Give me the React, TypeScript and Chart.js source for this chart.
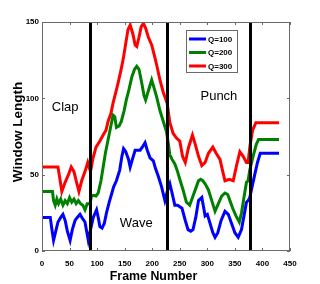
import React, { useEffect, useRef } from "react";
import { Chart, registerables } from "chart.js";

Chart.register(...registerables);

// ---------- data ----------
const seriesLabels = ["Q=100", "Q=200", "Q=300"];
const seriesColors = ["#0000ff", "#008000", "#ff0000"];

const q100Frames = [0, 10, 15, 18, 21, 25, 29, 34, 38, 42, 46, 51, 55, 60, 64, 69, 74, 78, 81, 84, 88, 93, 99, 102, 105, 109, 113, 117, 122, 126, 130, 135, 141, 145, 148, 152, 157, 160, 164, 169, 174, 178, 182, 187, 191, 196, 202, 206, 211, 217, 223, 228, 232, 236, 241, 246, 250, 254, 260, 265, 270, 274, 279, 284, 290, 296, 300, 305, 310, 314, 319, 325, 332, 338, 344, 350, 356, 362, 367, 371, 374, 377, 380, 386, 391, 396, 400, 430];
const q100Values = [22, 22, 22, 14, 7, 13, 19, 22, 24, 20, 13, 7, 14, 20, 22, 24, 21, 19, 13, 7, 14, 22, 27, 22, 16, 15, 18, 25, 32, 37, 42, 46, 53, 62, 67, 65, 60, 55, 60, 66, 66, 66, 68, 71, 66, 61, 59, 54, 49, 42, 33, 40, 44, 38, 30, 30, 29, 28, 20, 14, 13, 14, 22, 33, 35, 23, 24, 18, 12, 9, 12, 20, 26, 24, 18, 12, 9, 14, 24, 32, 33, 35, 40, 50, 58, 64, 64, 64];

const q200Frames = [0, 10, 19, 21, 24, 27, 30, 34, 38, 42, 46, 50, 54, 58, 62, 66, 70, 74, 78, 82, 87, 90, 93, 98, 102, 107, 111, 115, 120, 125, 129, 132, 135, 140, 144, 149, 153, 158, 163, 168, 172, 176, 181, 185, 188, 193, 199, 204, 208, 214, 220, 226, 229, 232, 236, 241, 246, 250, 256, 262, 268, 274, 280, 284, 288, 292, 296, 302, 308, 314, 320, 326, 332, 337, 341, 346, 352, 358, 362, 366, 371, 374, 377, 383, 389, 393, 430];
const q200Values = [39, 39, 39, 33, 30, 34, 31, 34, 30, 33, 31, 35, 32, 34, 31, 33, 31, 30, 27, 31, 31, 36, 36.5, 36, 38, 46, 55, 64, 73, 82, 89, 88, 81, 82, 85, 92, 99, 106, 114, 119, 121, 119, 110, 102, 99, 105, 112, 106, 101, 92, 85, 78, 71, 63, 60, 57, 52, 47, 40, 32, 30, 36, 42, 46, 47, 46, 44, 40, 33, 26, 31, 36, 38, 37, 33, 28, 23, 19, 25, 34, 45, 46, 53, 62, 70, 73, 73];

const q300Frames = [0, 10, 20, 29, 33, 36, 42, 48, 53, 58, 62, 67, 72, 78, 83, 88, 92, 98, 105, 111, 116, 120, 125, 129, 134, 138, 143, 147, 152, 156, 160, 165, 169, 172, 176, 180, 184, 188, 193, 199, 204, 208, 214, 220, 227, 232, 238, 244, 250, 255, 260, 266, 273, 278, 284, 290, 296, 302, 310, 316, 323, 328, 332, 340, 347, 353, 359, 365, 371, 374, 377, 382, 388, 430];
const q300Values = [55, 55, 55, 55, 46, 39, 45, 50, 55, 52, 46, 39, 46, 52, 58, 52, 60, 68, 72, 76, 79, 85, 90, 97, 104, 110, 118, 125, 136, 145, 148, 142, 135, 134, 140, 147, 149, 146, 140, 135, 128, 122, 112, 104, 97, 84, 77, 74, 72, 62, 58, 68, 76, 70, 62, 56, 58, 64, 68, 64, 60, 52, 46, 47, 46, 56, 65, 62, 58, 58, 68, 79, 84, 84];

const boundaryFrames = [87, 227, 377];
const activityNames = ["Clap", "Wave", "Punch"];
const xTicks = [0, 50, 100, 150, 200, 250, 300, 350, 400, 450];
const yTicks = [0, 50, 100, 150];
const xTitle = "Frame Number";
const yTitle = "Window Length";

const toPoints = (fs: number[], vs: number[]) => fs.map((f, i) => ({ x: f, y: vs[i] }));

const FONT = "'Liberation Sans', Arial, Helvetica, sans-serif";

const decorPlugin = {
  id: "decor",
  afterDatasetsDraw(chart: any) {
    const { ctx, chartArea, scales } = chart;
    const x = scales.x;
    const y = scales.y;
    ctx.save();
    ctx.strokeStyle = "#000";
    ctx.lineWidth = 3;
    boundaryFrames.forEach((f) => {
      const px = Math.round(x.getPixelForValue(f)) + 0.5;
      ctx.beginPath();
      ctx.moveTo(px, chartArea.top);
      ctx.lineTo(px, chartArea.bottom);
      ctx.stroke();
    });
    const anchors = [
      { f: 42, v: 94 },
      { f: 171, v: 18 },
      { f: 321, v: 101 },
    ];
    ctx.fillStyle = "#000";
    ctx.font = `13px ${FONT}`;
    ctx.textAlign = "center";
    ctx.textBaseline = "middle";
    activityNames.forEach((n, i) => {
      ctx.fillText(n, x.getPixelForValue(anchors[i].f), y.getPixelForValue(anchors[i].v));
    });
    ctx.restore();
  },
  afterDraw(chart: any) {
    const { ctx, chartArea, scales } = chart;
    const x = scales.x;
    const y = scales.y;
    const { left, right, top, bottom } = chartArea;
    ctx.save();
    ctx.strokeStyle = "#6a6a6a";
    ctx.lineWidth = 1;
    ctx.strokeRect(left + 0.5, top + 0.5, right - left - 1, bottom - top - 1);
    ctx.beginPath();
    xTicks.forEach((t) => {
      const px = Math.round(x.getPixelForValue(t)) + 0.5;
      ctx.moveTo(px, bottom);
      ctx.lineTo(px, bottom - 3);
      ctx.moveTo(px, top);
      ctx.lineTo(px, top + 3);
    });
    yTicks.forEach((t) => {
      const py = Math.round(y.getPixelForValue(t)) + 0.5;
      ctx.moveTo(left, py);
      ctx.lineTo(left + 3, py);
      ctx.moveTo(right, py);
      ctx.lineTo(right - 3, py);
    });
    ctx.stroke();
    // axis titles
    ctx.fillStyle = "#000";
    ctx.textAlign = "center";
    ctx.textBaseline = "middle";
    ctx.font = `bold 12.4px ${FONT}`;
    ctx.fillText(xTitle, left + 111.5, bottom + 26);
    ctx.save();
    ctx.translate(left - 24, top + 110);
    ctx.rotate(-Math.PI / 2);
    ctx.font = `bold 13.5px ${FONT}`;
    ctx.fillText(yTitle, 0, 0);
    ctx.restore();
    // legend
    const bx = left + 144;
    const by = top + 8;
    const bw = 51;
    const bh = 42;
    ctx.fillStyle = "#fff";
    ctx.fillRect(bx, by, bw, bh);
    ctx.strokeStyle = "#6a6a6a";
    ctx.lineWidth = 1;
    ctx.strokeRect(bx + 0.5, by + 0.5, bw, bh);
    ctx.font = `bold 8px ${FONT}`;
    ctx.textAlign = "left";
    ctx.textBaseline = "middle";
    seriesLabels.forEach((lab, i) => {
      const ly = by + 9 + i * 13.5;
      ctx.strokeStyle = seriesColors[i];
      ctx.lineWidth = 3;
      ctx.beginPath();
      ctx.moveTo(bx + 3, ly);
      ctx.lineTo(bx + 20, ly);
      ctx.stroke();
      ctx.fillStyle = "#000";
      ctx.fillText(lab, bx + 22, ly + 0.5);
    });
    ctx.restore();
  },
};

export default function App() {
  const ref = useRef<HTMLCanvasElement | null>(null);
  useEffect(() => {
    if (!ref.current) return;
    const allFrames = [q100Frames, q200Frames, q300Frames];
    const allValues = [q100Values, q200Values, q300Values];
    const chart = new Chart(ref.current, {
      type: "line",
      data: {
        datasets: seriesLabels.map((lab, i) => ({
          label: lab,
          data: toPoints(allFrames[i], allValues[i]),
          borderColor: seriesColors[i],
          backgroundColor: seriesColors[i],
          borderWidth: 3,
          pointRadius: 0,
          tension: 0,
          fill: false,
        })),
      },
      options: {
        responsive: false,
        animation: false,
        layout: { padding: { left: 0, right: 30, top: 22, bottom: 0 } },
        plugins: { legend: { display: false }, tooltip: { enabled: false } },
        scales: {
          x: {
            type: "linear",
            min: 0,
            max: 450,
            grid: { display: false, drawTicks: false },
            border: { display: false },
            afterBuildTicks: (s: any) => {
              s.ticks = xTicks.map((v) => ({ value: v }));
            },
            afterFit: (s: any) => {
              s.height = 33;
            },
            ticks: {
              color: "#000",
              font: { family: FONT, size: 8, weight: "bold" },
              padding: 8,
              maxRotation: 0,
              autoSkip: false,
            },
            title: { display: false },
          },
          y: {
            type: "linear",
            min: 0,
            max: 150,
            grid: { display: false, drawTicks: false },
            border: { display: false },
            afterBuildTicks: (s: any) => {
              s.ticks = yTicks.map((v) => ({ value: v }));
            },
            afterFit: (s: any) => {
              s.width = 42;
            },
            ticks: {
              color: "#000",
              font: { family: FONT, size: 8, weight: "bold" },
              padding: 3,
            },
            title: { display: false },
          },
        },
      },
      plugins: [decorPlugin],
    } as any);
    return () => chart.destroy();
  }, []);
  return (
    <div style={{ position: "absolute", left: 0, top: 0, width: 320, height: 284, background: "#fff" }}>
      <canvas ref={ref} width={320} height={284} style={{ display: "block" }} />
    </div>
  );
}
